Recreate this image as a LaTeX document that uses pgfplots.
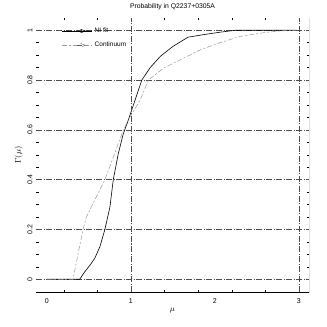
\documentclass[border=0pt]{standalone}
\usepackage{fontspec}
\setmainfont{Liberation Sans}
\usepackage{pgfplots}
\pgfplotsset{compat=1.18}

\begin{document}
\begin{tikzpicture}
  \useasboundingbox (0,0) rectangle (327pt,327pt);
  \begin{axis}[
      at={(36pt,35pt)}, anchor=south west,
      scale only axis,
      width=273pt, height=274pt,
      xmin=-0.13, xmax=3.12,
      ymin=-0.051, ymax=1.049,
      axis line style={draw=none},
      xtick={0,1,2,3},
      minor xtick={0.2,0.6,...,3.0},
      ytick={0,0.2,...,1},
      minor y tick num=3,
      major tick length=0pt,
      minor tick length=2.5pt,
      tick align=inside,
      tick style={black, line width=0.4pt},
      ymajorgrids,
      major grid style={gray!60!black, line width=0.45pt,
        dash pattern=on 6pt off 1.5pt on 1pt off 1.5pt},
      /pgf/number format/assume math mode=true,
      tick label style={font=\fontsize{7}{8}\selectfont},
      yticklabel style={rotate=90, anchor=south},
      xticklabel style={yshift=-3pt},
      title={Probability in Q2237+0305A},
      title style={font=\fontsize{6.8}{8}\selectfont, yshift=-1pt},
      xlabel={$\mu$},
      ylabel={$\Gamma(\mu)$},
      label style={font=\fontsize{8}{9}\selectfont},
      xlabel style={yshift=2pt},
      ylabel style={yshift=-2pt},
      legend cell align=left,
      legend style={draw=none, fill=none, inner sep=0pt,
        font=\fontsize{6.5}{7}\selectfont,
        at={(axis cs:0.18,1.018)}, anchor=north west,
        row sep=4pt},
    ]

    % N fit
    \addplot[black, line width=0.6pt,
      legend image code/.code={
        \draw[black, line width=0.5pt] (0pt,0pt) -- (30pt,0pt);
        \draw[black, line width=0.5pt] (18pt,1.8pt) -- (23pt,0pt) -- (18pt,-1.8pt);
      }] coordinates {
      (0,0) (0.39,0) (0.45,0.03) (0.52,0.06) (0.57,0.085) (0.63,0.13)
      (0.69,0.20) (0.75,0.29) (0.79,0.40) (0.85,0.505) (0.91,0.585)
      (0.97,0.64) (1.05,0.72) (1.13,0.80) (1.23,0.85) (1.35,0.895)
      (1.50,0.935) (1.68,0.972) (1.86,0.982) (2.06,0.992) (2.25,1.0)
      (2.97,1.0)
    };
    \addlegendentry{NI fit}

    % Continuum
    \addplot[gray!80, line width=0.5pt,
      dash pattern=on 5pt off 2pt on 2pt off 2pt,
      legend image code/.code={
        \path (0pt,0pt) -- (30pt,0pt);
        \draw[gray!70!black, line width=0.4pt] (15pt,0pt) -- (21pt,0pt);
        \draw[gray!70!black, line width=0.4pt] (18pt,1.8pt) -- (23pt,0pt) -- (18pt,-1.8pt);
      }] coordinates {
      (0,0) (0.31,0) (0.37,0.10) (0.43,0.20) (0.47,0.25) (0.55,0.305)
      (0.69,0.40) (0.79,0.49) (0.91,0.60) (0.97,0.64) (1.11,0.72)
      (1.21,0.80) (1.385,0.847) (1.58,0.88) (1.82,0.92) (2.06,0.95)
      (2.3,0.975) (2.58,0.99) (2.77,0.997) (2.97,1.0)
    };
    \addlegendentry{Continuum}

    % vertical grid lines at 1 and 3
    \draw[gray!60!black, line width=0.45pt,
      dash pattern=on 6pt off 1.5pt on 1pt off 1.5pt]
      (axis cs:1,-0.051) -- (axis cs:1,1.049)
      (axis cs:3,-0.051) -- (axis cs:3,1.049);

    % bottom and right axis lines
    \draw[black, line width=0.5pt] (rel axis cs:0,0) -- (rel axis cs:1,0) -- (rel axis cs:1,1);
  \end{axis}
\end{tikzpicture}
\end{document}
